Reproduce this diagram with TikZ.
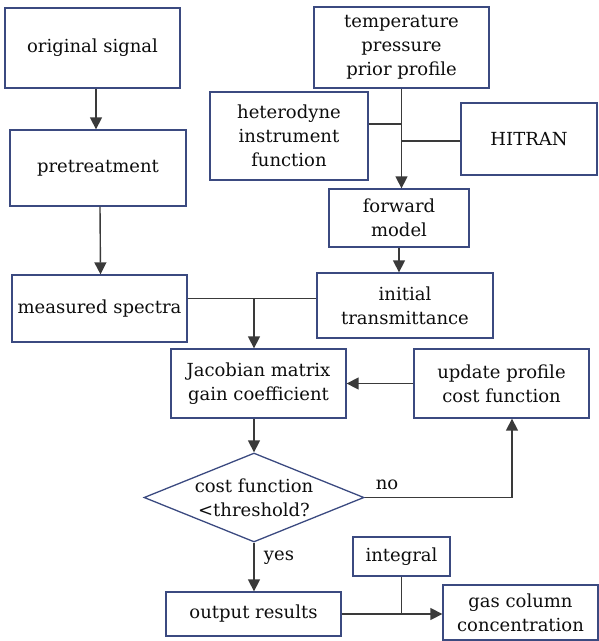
\documentclass[tikz,border=0pt]{standalone}
\usepackage{fontspec}
\setmainfont{DejaVu Serif}
\usetikzlibrary{shapes.geometric,arrows.meta}
\definecolor{boxc}{HTML}{3B4A80}
\definecolor{linec}{HTML}{3A3A3A}
\begin{document}
\begin{tikzpicture}[x=1pt,y=-1pt,
  every node/.style={font=\fontsize{18}{24}\selectfont, text=black!95},
  bx/.style={draw=boxc, line width=1.3pt, rectangle, align=center, inner sep=0pt},
  arr/.style={draw=linec, line width=1.4pt, -{Triangle[width=12pt,length=12pt]}},
  ln/.style={draw=linec, line width=1.4pt}]
\useasboundingbox (0,0) rectangle (599,641);
\node[bx, minimum width=175pt, minimum height=80pt] (orig) at (92.5,48) {original signal};
\node[bx, minimum width=176pt, minimum height=76pt] (pre) at (98,168) {pretreatment};
\node[bx, minimum width=175pt, minimum height=67pt] (meas) at (99.5,308.5) {measured spectra};
\node[bx, minimum width=158pt, minimum height=88pt] (het) at (289,136) {heterodyne\\instrument\\function};
\node[bx, minimum width=175pt, minimum height=81pt] (temp) at (401.5,47.5) {temperature\\pressure\\prior profile};
\node[bx, minimum width=136pt, minimum height=72pt] (hit) at (529,139) {HITRAN};
\node[bx, minimum width=140pt, minimum height=58pt] (fwd) at (399,218) {forward\\model};
\node[bx, minimum width=176pt, minimum height=65pt] (init) at (405,305.5) {initial\\transmittance};
\node[bx, minimum width=175pt, minimum height=69pt] (jac) at (258.5,383.5) {Jacobian matrix\\gain coefficient};
\node[bx, minimum width=175pt, minimum height=69pt] (upd) at (501.5,383.5) {update profile\\cost function};
\node[draw=boxc, line width=1.3pt, diamond, inner sep=0pt, shape aspect=2.47, align=center,
      minimum width=220pt, minimum height=89pt] (dia) at (254,497.5) {cost function\\{<}threshold?};
\node[bx, minimum width=175pt, minimum height=44pt] (out) at (253.5,614) {output results};
\node[bx, minimum width=97pt, minimum height=39pt] (intg) at (401.5,556.5) {integral};
\node[bx, minimum width=155pt, minimum height=55pt] (gas) at (520.5,612.5) {gas column\\concentration};
\coordinate (nc) at (512,497.5);
\coordinate (mj) at (254,298);
\coordinate (ij) at (401.5,614);
% connectors
\draw[arr] ([xshift=3.5pt]orig.south) -- ([xshift=-2pt]pre.north);
\draw[arr] ([xshift=2pt]pre.south) -- ([xshift=1pt]meas.north);
\draw[arr] (temp.south) -- (temp.south |- fwd.north);
\draw[ln] ([yshift=12pt]het.east) -- ([yshift=12pt]het.east -| temp.south);
\draw[ln] ([yshift=-2pt]hit.west) -- ([yshift=-2pt]hit.west -| temp.south);
\draw[arr] (fwd.south) -- (fwd.south |- init.north);
\draw[ln] ([yshift=10pt]meas.east) -- ([yshift=10pt]meas.east -| init.west);
\draw[arr] (mj) -- (mj |- jac.north);
\draw[arr] (upd.west) -- (jac.east);
\draw[arr] (dia.north |- jac.south) -- (dia.north);
\draw[arr] (dia.east) -- (nc) -- (nc |- upd.south);
\node at (387,485) {no};
\draw[arr] (dia.south) -- (dia.south |- out.north);
\node at (279,558) {yes};
\draw[arr] (out.east) -- (out.east -| gas.west);
\draw[ln] (intg.south) -- (ij);
\end{tikzpicture}
\end{document}
